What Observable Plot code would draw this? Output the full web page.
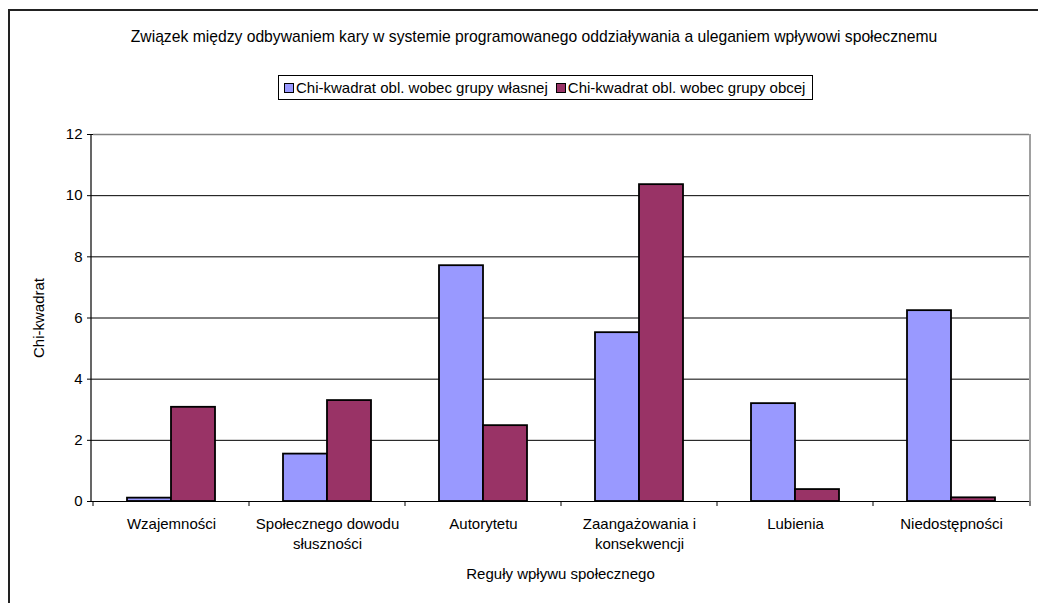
<!DOCTYPE html>
<html>
<head>
<meta charset="utf-8">
<script src="https://cdn.jsdelivr.net/npm/d3@7"></script>
<script src="https://cdn.jsdelivr.net/npm/@observablehq/plot@0.6"></script>
<style>
  html, body { margin: 0; padding: 0; background: #fff; overflow: hidden; }
  body { width: 1038px; height: 603px; position: relative; font-family: "Liberation Sans", Arial, sans-serif; color: #000; }
  #border { position: absolute; left: 8px; top: 9px; width: 1100px; height: 700px; border-left: 2px solid #222; border-top: 2px solid #222; }
  #title { position: absolute; top: 28px; left: 0; width: 1068px; text-align: center; font-size: 15.7px; white-space: nowrap; }
  #legend { position: absolute; top: 75px; left: 278px; border: 1px solid #000; padding: 3px 7px 3px 5px; font-size: 15px; white-space: nowrap; display: flex; align-items: center; background: #fff; }
  #legend .sw { display: inline-block; width: 8px; height: 8px; border: 1px solid #000; margin-right: 2px; }
  #legend .item { display: inline-flex; align-items: center; margin-right: 8px; }
  #legend .item:last-child { margin-right: 0; }
  #chart { position: absolute; top: 110px; left: 0; }
  #xtitle { position: absolute; top: 565px; left: 0; width: 1121px; text-align: center; font-size: 15px; }
</style>
</head>
<body>
<div id="border"></div>
<div id="title"></div>
<div id="legend"></div>
<div id="chart"></div>
<div id="xtitle"></div>
<script>
const titleText = "Związek między odbywaniem kary w systemie programowanego oddziaływania a uleganiem wpływowi społecznemu";
const xTitle = "Reguły wpływu społecznego";
const yTitle = "Chi-kwadrat";
const categories = ["Wzajemności", "Społecznego dowodu słuszności", "Autorytetu", "Zaangażowania i konsekwencji", "Lubienia", "Niedostępności"];
const tickLabels = ["Wzajemności", "Społecznego dowodu\nsłuszności", "Autorytetu", "Zaangażowania i\nkonsekwencji", "Lubienia", "Niedostępności"];
const seriesNames = ["Chi-kwadrat obl. wobec grupy własnej", "Chi-kwadrat obl. wobec grupy obcej"];
const ownGroup = [0.11, 1.55, 7.71, 5.52, 3.2, 6.24];
const otherGroup = [3.08, 3.3, 2.48, 10.36, 0.39, 0.12];
const yTicks = [0, 2, 4, 6, 8, 10, 12];
const colors = ["#9999FF", "#993366"];

const table = [];
categories.forEach((c, i) => {
  table.push({category: c, series: seriesNames[0], value: ownGroup[i]});
  table.push({category: c, series: seriesNames[1], value: otherGroup[i]});
});

document.getElementById("title").textContent = titleText;
document.getElementById("xtitle").textContent = xTitle;
const legend = document.getElementById("legend");
seriesNames.forEach((s, i) => {
  const item = document.createElement("span");
  item.className = "item";
  const sw = document.createElement("span");
  sw.className = "sw";
  sw.style.background = colors[i];
  item.appendChild(sw);
  item.appendChild(document.createTextNode(s));
  legend.appendChild(item);
});

const plot = Plot.plot({
  width: 1038,
  height: 493,
  marginLeft: 91,
  marginRight: 8,
  marginTop: 24,
  marginBottom: 102,
  style: {fontFamily: "'Liberation Sans', Arial, sans-serif", fontSize: "15px", color: "#000", background: "transparent", overflow: "visible"},
  fx: {domain: categories, padding: 0, label: null, axis: null},
  x: {domain: seriesNames, paddingInner: 0, paddingOuter: 0.76, axis: null},
  y: {domain: [0, 12], ticks: yTicks, label: yTitle},
  color: {domain: seriesNames, range: colors},
  marks: [
    Plot.ruleY(yTicks.filter(v => v > 0 && v < 12), {stroke: "#000", strokeWidth: 1}),
    Plot.ruleY([12], {stroke: "#808080", strokeWidth: 1.5}),
    Plot.barY(table, {fx: "category", x: "series", y: "value", fill: "series", stroke: "#000", strokeWidth: 1.8}),
    Plot.ruleY([0], {stroke: "#000", strokeWidth: 1.2}),
    Plot.axisY({ticks: yTicks, tickSize: 6, tickPadding: 5, label: yTitle, labelAnchor: "center", labelArrow: "none", labelOffset: 60, fontSize: 15}),
    Plot.axisFx({anchor: "bottom", tickSize: 0, tickPadding: 14, tickFormat: d => tickLabels[categories.indexOf(d)], label: null, fontSize: 15, lineHeight: 1.3})
  ]
});
document.getElementById("chart").appendChild(plot);

// boundary ticks, y-axis line and gray right border, positioned via Plot's own scales
const fx = plot.scale("fx");
const y = plot.scale("y");
const svg = d3.select(plot);
const r = fx.range;
const edges = categories.map(c => fx.apply(c)).concat([r[1]]);
const y0 = y.apply(0), y12 = y.apply(12);
svg.append("g").selectAll("line").data(edges).join("line")
  .attr("x1", d => d).attr("x2", d => d)
  .attr("y1", y0).attr("y2", y0 + 5)
  .attr("stroke", "#000").attr("stroke-width", 1);
svg.append("line").attr("x1", r[0]).attr("x2", r[0]).attr("y1", y12).attr("y2", y0).attr("stroke", "#000").attr("stroke-width", 1.2);
svg.append("line").attr("x1", r[1]).attr("x2", r[1]).attr("y1", y12).attr("y2", y0).attr("stroke", "#808080").attr("stroke-width", 1.5);
</script>
</body>
</html>
